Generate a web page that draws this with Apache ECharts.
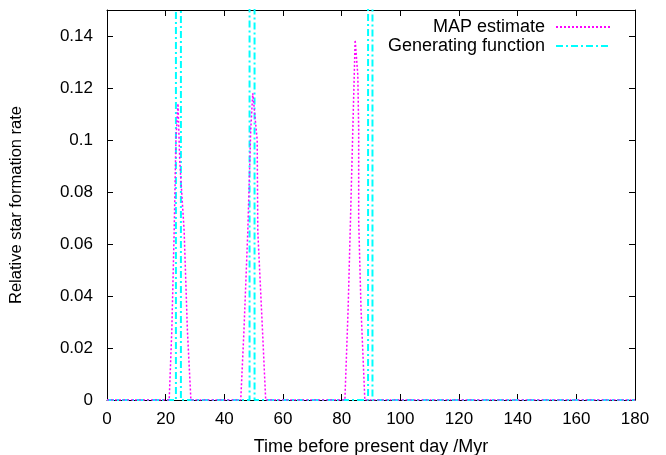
<!DOCTYPE html>
<html>
<head>
<meta charset="utf-8">
<script src="https://cdn.jsdelivr.net/npm/echarts@6/dist/echarts.min.js"></script>
<style>html,body{margin:0;padding:0;background:#fff}#c{width:666px;height:455px}</style>
</head>
<body>
<div id="c"></div>
<script>
const xTicks = [0,20,40,60,80,100,120,140,160,180];
const yTicks = [0,0.02,0.04,0.06,0.08,0.1,0.12,0.14];
const seriesNames = ['MAP estimate','Generating function'];
const mapX = [0, 21.2, 22.1, 22.9, 23.5, 24.2, 24.8, 25.4, 26.3, 27.4, 28.6,
              45.6, 46.7, 48.0, 49.0, 49.7, 50.2, 51.2, 51.4, 53.0, 54.1,
              81.1, 82.2, 83.0, 83.8, 84.6, 85.5, 85.8, 85.8, 86.6, 87.9, 180];
const mapY = [0, 0, 0.027, 0.065, 0.100, 0.114, 0.092, 0.081, 0.065, 0.027, 0,
              0, 0.027, 0.065, 0.104, 0.118, 0.112, 0.100, 0.065, 0.027, 0,
              0, 0.035, 0.069, 0.104, 0.1385, 0.125, 0.104, 0.069, 0.035, 0, 0];
const genX = [0, 23.5, 23.5, 25.2, 25.2, 48.6, 48.6, 50.3, 50.3, 89.0, 89.0, 90.5, 90.5, 180];
const genY = [0, 0, 1, 1, 0, 0, 1, 1, 0, 0, 1, 1, 0, 0];

const font = 'Liberation Sans, Arial, sans-serif';
const chart = echarts.init(document.getElementById('c'));
const fmtY = v => v > 0.145 ? '' : (v === 0 ? '0' : String(parseFloat(v.toFixed(2))));
const common = () => ({
  axisLine: {show: true, onZero: false, lineStyle: {color: '#000', width: 1}},
  axisTick: {show: true, inside: true, length: 6, lineStyle: {color: '#000', width: 1}},
  splitLine: {show: false}
});
chart.setOption({
  animation: false,
  backgroundColor: '#fff',
  grid: {left: 107, right: 31, top: 10, bottom: 55, outerBoundsMode: 'none', containLabel: false},
  legend: {
    right: 50, top: 13, orient: 'vertical', align: 'right',
    itemWidth: 54, itemHeight: 17, itemGap: 1,
    itemStyle: {opacity: 0},
    textStyle: {fontFamily: font, fontSize: 18, color: '#000', padding: [0, 6, 0, 0]},
    data: seriesNames
  },
  xAxis: [
    Object.assign(common(), {type: 'value', min: 0, max: 180, interval: 20, position: 'bottom',
      name: 'Time before present day /Myr', nameLocation: 'middle', nameGap: 38,
      nameTextStyle: {fontFamily: font, fontSize: 18, color: '#000'},
      axisLabel: {fontFamily: font, fontSize: 17, color: '#000', margin: 11,
        formatter: v => xTicks.includes(v) ? String(v) : ''}}),
    Object.assign(common(), {type: 'value', min: 0, max: 180, interval: 20, position: 'top',
      axisLabel: {show: false}})
  ],
  yAxis: [
    Object.assign(common(), {type: 'value', min: 0, max: 0.15, interval: 0.02, position: 'left',
      name: 'Relative star formation rate', nameLocation: 'middle', nameGap: 82,
      nameTextStyle: {fontFamily: font, fontSize: 16.5, color: '#000'},
      axisLabel: {fontFamily: font, fontSize: 17, color: '#000', margin: 14, formatter: fmtY}}),
    Object.assign(common(), {type: 'value', min: 0, max: 0.15, interval: 0.02, position: 'right',
      axisLabel: {show: false}})
  ],
  series: [
    {
      name: seriesNames[0], type: 'line', showSymbol: false, symbol: 'none',
      data: mapX.map((x, i) => [x, mapY[i]]),
      lineStyle: {color: '#ff00ff', width: 1.5, type: [2, 2]},
      itemStyle: {color: '#ff00ff'}, clip: true, z: 3
    },
    {
      name: seriesNames[1], type: 'line', showSymbol: false, symbol: 'none',
      data: genX.map((x, i) => [x, genY[i]]),
      lineStyle: {color: '#00ffff', width: 2, type: [7, 3, 2, 3]},
      itemStyle: {color: '#00ffff'}, clip: true, z: 2
    }
  ]
});
</script>
</body>
</html>
